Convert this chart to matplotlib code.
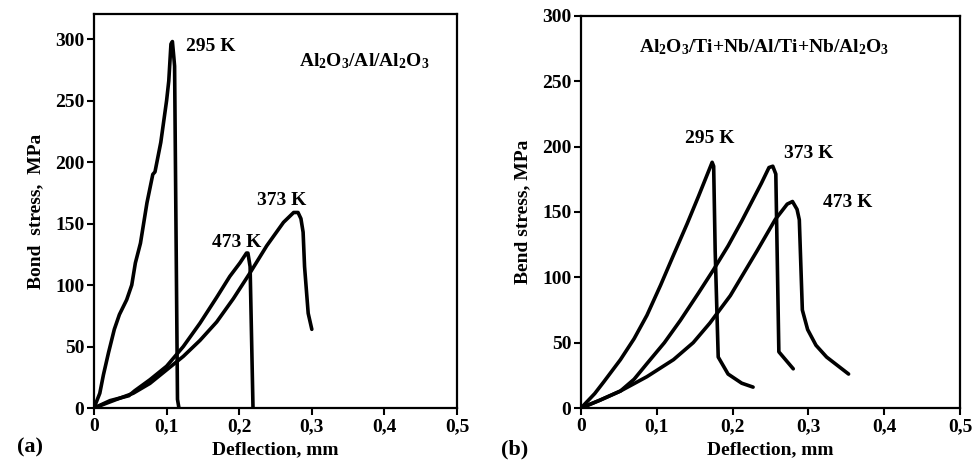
import matplotlib.pyplot as plt
import numpy as np

# ---- panel (a): Al2O3/Al/Al2O3 ----
a_295_x = [0, 0.008, 0.013, 0.020, 0.028, 0.035, 0.045, 0.052, 0.057, 0.064,
           0.073, 0.081, 0.084, 0.092, 0.100, 0.103, 0.106, 0.108, 0.110, 0.111,
           0.115, 0.117]
a_295_y = [0, 12, 27, 45, 64, 76, 88, 100, 118, 134,
           167, 190, 192, 216, 250, 266, 296, 298, 285, 278,
           7, 0]

a_373_x = [0, 0.031, 0.054, 0.077, 0.100, 0.123, 0.146, 0.169, 0.192, 0.215,
           0.238, 0.261, 0.275, 0.281, 0.285, 0.288, 0.290, 0.295, 0.300]
a_373_y = [0, 7, 12, 20, 31, 42, 55, 70, 89, 110,
           132, 151, 159, 159, 154, 143, 115, 77, 64]

a_473_x = [0, 0.022, 0.048, 0.052, 0.056, 0.077, 0.100, 0.123, 0.146, 0.169,
           0.187, 0.201, 0.210, 0.212, 0.215, 0.219]
a_473_y = [0, 6, 10, 12, 14, 23, 34, 50, 69, 90,
           107, 118, 126, 126, 115, 0]

# ---- panel (b): Al2O3/Ti+Nb/Al/Ti+Nb/Al2O3 ----
b_295_x = [0, 0.018, 0.030, 0.052, 0.070, 0.087, 0.105, 0.122, 0.140, 0.155,
           0.173, 0.175, 0.177, 0.181, 0.194, 0.212, 0.227]
b_295_y = [0, 11, 20, 37, 53, 71, 94, 117, 141, 162,
           188, 185, 120, 39, 26, 19, 16]

b_373_x = [0, 0.025, 0.052, 0.070, 0.087, 0.110, 0.131, 0.155, 0.175, 0.194,
           0.212, 0.238, 0.248, 0.253, 0.257, 0.261, 0.280]
b_373_y = [0, 6, 13, 22, 34, 50, 67, 88, 106, 124,
           143, 172, 184, 185, 179, 43, 30]

b_473_x = [0, 0.025, 0.052, 0.087, 0.122, 0.148, 0.170, 0.197, 0.232, 0.256,
           0.272, 0.279, 0.285, 0.288, 0.292, 0.299, 0.310, 0.324, 0.353]
b_473_y = [0, 6, 13, 24, 37, 50, 65, 86, 120, 144,
           156, 158, 152, 144, 75, 60, 48, 39, 26]

xticks = [0, 0.1, 0.2, 0.3, 0.4, 0.5]
xtick_labels = ["0", "0,1", "0,2", "0,3", "0,4", "0,5"]
yticks = [0, 50, 100, 150, 200, 250, 300]

plt.rcParams["font.family"] = ["Liberation Serif", "DejaVu Serif"]
plt.rcParams["font.weight"] = "bold"
plt.rcParams["mathtext.fontset"] = "custom"
plt.rcParams["mathtext.rm"] = "Liberation Serif:bold"
plt.rcParams["mathtext.bf"] = "Liberation Serif:bold"
plt.rcParams["mathtext.it"] = "Liberation Serif:bold"
plt.rcParams["mathtext.default"] = "bf"

fig = plt.figure(figsize=(9.77, 4.75), dpi=100)
ax1 = fig.add_axes([0.0962, 0.141, 0.3716, 0.8285])
ax2 = fig.add_axes([0.5947, 0.141, 0.3879, 0.8255])

fs = 14
lw = 2.6

for ax in [ax1, ax2]:
    ax.set_xlim(0, 0.5)
    ax.set_xticks(xticks)
    ax.set_xticklabels(xtick_labels, fontsize=fs, fontweight="bold")
    ax.set_yticks(yticks)
    ax.set_yticklabels([str(v) for v in yticks], fontsize=fs, fontweight="bold")
    ax.tick_params(direction="out", length=5, width=1.5, pad=2)
    for s in ax.spines.values():
        s.set_linewidth(1.6)
    ax.set_xlabel("Deflection, mm", fontsize=fs, fontweight="bold", labelpad=5)

ax1.set_ylim(0, 320)
ax2.set_ylim(0, 300)

for xs, ys in [(a_295_x, a_295_y), (a_373_x, a_373_y), (a_473_x, a_473_y)]:
    ax1.plot(xs, ys, color="black", lw=lw, solid_joinstyle="round",
             solid_capstyle="round")

for xs, ys in [(b_295_x, b_295_y), (b_373_x, b_373_y), (b_473_x, b_473_y)]:
    ax2.plot(xs, ys, color="black", lw=lw, solid_joinstyle="round",
             solid_capstyle="round")

ax1.set_ylabel("Bond  stress,  MPa", fontsize=fs, fontweight="bold", labelpad=8)
ax2.set_ylabel("Bend stress, MPa", fontsize=fs, fontweight="bold", labelpad=8)

ax1.text(0.161, 294, "295 K", fontsize=fs, fontweight="bold", ha="center", va="center")
ax1.text(0.196, 135, "473 K", fontsize=fs, fontweight="bold", ha="center", va="center")
ax1.text(0.258, 169, "373 K", fontsize=fs, fontweight="bold", ha="center", va="center")
ax1.text(0.372, 282, r"Al$_2$O$_3$/Al/Al$_2$O$_3$",
         fontsize=fs, fontweight="bold", ha="center", va="center")

ax2.text(0.170, 206, "295 K", fontsize=fs, fontweight="bold", ha="center", va="center")
ax2.text(0.300, 195, "373 K", fontsize=fs, fontweight="bold", ha="center", va="center")
ax2.text(0.352, 157, "473 K", fontsize=fs, fontweight="bold", ha="center", va="center")
ax2.text(0.241, 276, r"Al$_2$O$_3$/Ti+Nb/Al/Ti+Nb/Al$_2$O$_3$",
         fontsize=fs, fontweight="bold", ha="center", va="center")

fig.text(0.031, 0.057, "(a)", fontsize=16, fontweight="bold", ha="center", va="center")
fig.text(0.527, 0.053, "(b)", fontsize=16, fontweight="bold", ha="center", va="center")

fig.savefig("out.png", dpi=100)
